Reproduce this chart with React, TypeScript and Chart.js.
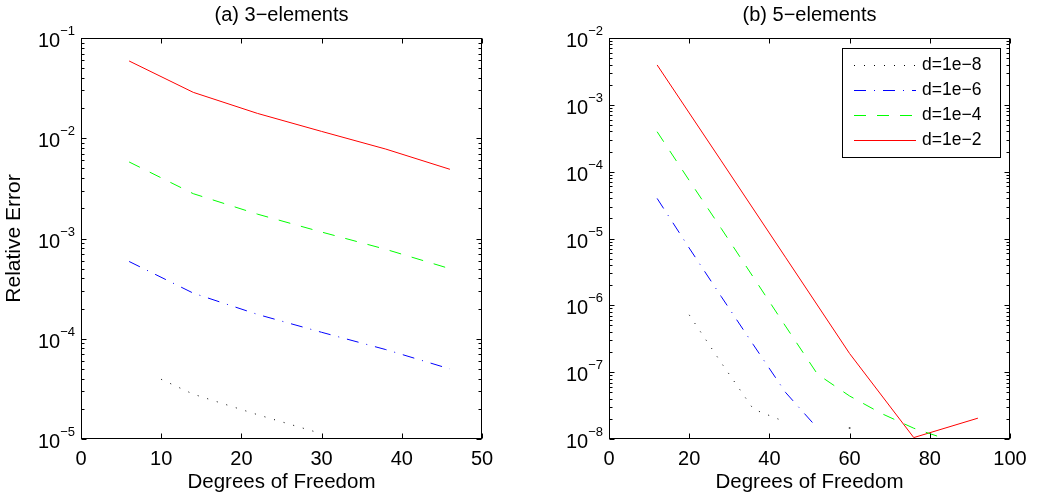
import React, { useEffect, useRef } from 'react';
import { Chart, registerables } from 'chart.js';

Chart.register(...registerables);

const FONT = "'Liberation Sans', Arial, Helvetica, sans-serif";

// ---- Panel (a) 3-elements ----
const aDof = [6, 14, 22, 30, 38, 46];
const aDof8 = [10, 14, 22, 30];
const aErr8 = [3.94e-5, 2.8e-5, 1.75e-5, 1.13e-5];
const aErr6 = [5.9e-4, 2.85e-4, 1.75e-4, 1.16e-4, 7.8e-5, 5.0e-5];
const aErr4 = [5.8e-3, 2.8e-3, 1.75e-3, 1.16e-3, 7.8e-4, 5.0e-4];
const aErr2 = [0.059, 0.0287, 0.0177, 0.0117, 0.0078, 0.0049];

// ---- Panel (b) 5-elements ----
const bDof8 = [20, 28, 36, 44, 52, 60];
const bErr8: (number | null)[] = [7.2e-7, 1.38e-7, 2.8e-8, 1.8e-8, null, 1.46e-8];
const bDof6 = [12, 20, 28, 36, 44, 52];
const bErr6 = [3.98e-5, 7.2e-6, 1.35e-6, 2.57e-7, 5.0e-8, 1.45e-8];
const bDof4 = [12, 20, 28, 36, 44, 52, 60, 68, 76, 84];
const bErr4 = [3.96e-4, 7.4e-5, 1.41e-5, 2.63e-6, 4.9e-7, 9.3e-8, 4.4e-8, 2.4e-8, 1.45e-8, 1.0e-8];
const bDof2 = [12, 28, 44, 60, 76, 92];
const bErr2 = [3.95e-3, 1.45e-4, 5.25e-6, 1.9e-7, 1.05e-8, 2.05e-8];

const LABELS = ['d=1e\u22128', 'd=1e\u22126', 'd=1e\u22124', 'd=1e\u22122'];
const COLORS = ['#000000', '#0000ff', '#00ff00', '#ff0000'];
const DASHES: number[][] = [[1, 9], [12, 8, 1, 8], [12, 11], []];

type Pt = { x: number; y: number | null };
const pts = (xs: number[], ys: (number | null)[]): Pt[] => xs.map((x, i) => ({ x, y: ys[i] }));

function isolatedRadius(ys: (number | null)[]) {
  return ys.map((v, i) =>
    v != null && (i === 0 || ys[i - 1] == null) && (i === ys.length - 1 || ys[i + 1] == null) ? 1 : 0
  );
}

function makeDatasets(series: Pt[][]) {
  return series.map((data, i) => ({
    label: LABELS[i],
    data,
    borderColor: COLORS[i],
    backgroundColor: COLORS[i],
    pointBackgroundColor: '#555555',
    borderDash: DASHES[i],
    borderWidth: 1,
    pointRadius: isolatedRadius(data.map((p) => p.y)),
    pointBorderWidth: 0,
    tension: 0,
    fill: false,
    spanGaps: false,
  }));
}

const framePlugin = {
  id: 'frame',
  afterDraw(chart: any, _args: any, opts: any) {
    const { ctx, chartArea: a } = chart;
    const xs = chart.scales.x;
    const ys = chart.scales.y;
    const L = Math.round(a.left) + 0.5;
    const R = Math.round(a.right) - 0.5;
    const T = Math.round(a.top) + 0.5;
    const B = Math.round(a.bottom) - 0.5;
    ctx.save();
    ctx.strokeStyle = '#000';
    ctx.lineWidth = 1;
    ctx.setLineDash([]);
    ctx.beginPath();
    for (const t of xs.ticks) {
      const px = Math.round(xs.getPixelForValue(t.value)) + 0.5;
      ctx.moveTo(px, B);
      ctx.lineTo(px, B - 5);
      ctx.moveTo(px, T);
      ctx.lineTo(px, T + 5);
    }
    const e0 = Math.round(Math.log10(ys.min));
    const e1 = Math.round(Math.log10(ys.max));
    for (let e = e0; e <= e1; e++) {
      for (let m = 1; m <= 9; m++) {
        if (e === e1 && m > 1) break;
        const py = Math.round(ys.getPixelForValue(m * Math.pow(10, e))) + 0.5;
        const len = m === 1 ? 5 : 3;
        ctx.moveTo(L, py);
        ctx.lineTo(L + len, py);
        ctx.moveTo(R, py);
        ctx.lineTo(R - len, py);
      }
    }
    ctx.stroke();
    ctx.strokeRect(L, T, R - L, B - T);

    // y tick labels 10^e
    ctx.fillStyle = '#000';
    ctx.textBaseline = 'alphabetic';
    ctx.textAlign = 'right';
    for (let e = e0; e <= e1; e++) {
      const py = ys.getPixelForValue(Math.pow(10, e));
      const exp = '\u2212' + String(-e);
      ctx.font = `13px ${FONT}`;
      const ew = ctx.measureText(exp).width;
      ctx.fillText(exp, a.left - 6, py - 3);
      ctx.font = `20px ${FONT}`;
      ctx.fillText('10', a.left - 6 - ew, py + 9);
    }

    if (opts && opts.legend) {
      const bw = 158;
      const bh = 109;
      const bx = Math.round(a.right) - 10 - bw;
      const by = Math.round(a.top) + 10;
      ctx.fillStyle = '#fff';
      ctx.fillRect(bx, by, bw, bh);
      ctx.strokeStyle = '#000';
      ctx.strokeRect(bx + 0.5, by + 0.5, bw, bh);
      chart.data.datasets.forEach((ds: any, i: number) => {
        const cy = by + 17 + i * 25;
        ctx.save();
        ctx.strokeStyle = ds.borderColor;
        ctx.lineWidth = 1.2;
        ctx.setLineDash(ds.borderDash || []);
        ctx.beginPath();
        ctx.moveTo(bx + 12, cy + 0.5);
        ctx.lineTo(bx + 74, cy + 0.5);
        ctx.stroke();
        ctx.restore();
        ctx.fillStyle = '#000';
        ctx.font = `17.5px ${FONT}`;
        ctx.textAlign = 'left';
        ctx.textBaseline = 'middle';
        ctx.fillText(ds.label, bx + 80, cy);
      });
    }
    ctx.restore();
  },
};

function makeConfig(p: {
  datasets: any[];
  title: string;
  xMax: number;
  xStep: number;
  yMin: number;
  yMax: number;
  yWidth: number;
  padRight: number;
  yTitle: boolean;
  legend: boolean;
}) {
  return {
    type: 'line',
    data: { datasets: p.datasets },
    options: {
      animation: false,
      responsive: false,
      events: [],
      layout: { padding: { left: 0, right: p.padRight, top: 0, bottom: 0 } },
      plugins: {
        legend: { display: false },
        tooltip: { enabled: false },
        title: {
          display: true,
          text: p.title,
          fullSize: false,
          color: '#000',
          font: { family: FONT, size: 20, weight: 'normal', lineHeight: '24px' },
          padding: { top: 3, bottom: 11 },
        },
        frame: { legend: p.legend },
      },
      scales: {
        x: {
          type: 'linear',
          min: 0,
          max: p.xMax,
          ticks: {
            stepSize: p.xStep,
            color: '#000',
            font: { family: FONT, size: 20 },
            padding: 0,
            maxRotation: 0,
            autoSkip: false,
          },
          grid: { display: false },
          border: { display: false },
          title: {
            display: true,
            text: 'Degrees of Freedom',
            color: '#000',
            font: { family: FONT, size: 20.5, lineHeight: '24px' },
            padding: { top: 0, bottom: 4 },
          },
          afterFit: (s: any) => {
            s.height = 59;
          },
        },
        y: {
          type: 'logarithmic',
          min: p.yMin,
          max: p.yMax,
          ticks: { display: false },
          grid: { display: false },
          border: { display: false },
          title: {
            display: p.yTitle,
            text: 'Relative Error',
            color: '#000',
            font: { family: FONT, size: 21, lineHeight: '25px' },
            padding: { top: 2, bottom: 0 },
          },
          afterFit: (s: any) => {
            s.width = p.yWidth;
          },
        },
      },
    },
    plugins: [framePlugin],
  };
}

export default function App() {
  const refA = useRef<HTMLCanvasElement | null>(null);
  const refB = useRef<HTMLCanvasElement | null>(null);

  useEffect(() => {
    const dsA = makeDatasets([
      pts(aDof8, aErr8),
      pts(aDof, aErr6),
      pts(aDof, aErr4),
      pts(aDof, aErr2),
    ]);
    const dsB = makeDatasets([
      pts(bDof8, bErr8),
      pts(bDof6, bErr6),
      pts(bDof4, bErr4),
      pts(bDof2, bErr2),
    ]);
    const chartA = new Chart(
      refA.current as HTMLCanvasElement,
      makeConfig({
        datasets: dsA,
        title: '(a) 3\u2212elements',
        xMax: 50,
        xStep: 10,
        yMin: 1e-5,
        yMax: 1e-1,
        yWidth: 81,
        padRight: 36,
        yTitle: true,
        legend: false,
      }) as any
    );
    const chartB = new Chart(
      refB.current as HTMLCanvasElement,
      makeConfig({
        datasets: dsB,
        title: '(b) 5\u2212elements',
        xMax: 100,
        xStep: 20,
        yMin: 1e-8,
        yMax: 1e-2,
        yWidth: 91,
        padRight: 27,
        yTitle: false,
        legend: true,
      }) as any
    );
    return () => {
      chartA.destroy();
      chartB.destroy();
    };
  }, []);

  return (
    <div style={{ position: 'absolute', left: 0, top: 0, width: 1037, height: 498, background: '#fff' }}>
      <canvas ref={refA} width={518} height={498} style={{ position: 'absolute', left: 0, top: 0 }} />
      <canvas ref={refB} width={519} height={498} style={{ position: 'absolute', left: 518, top: 0 }} />
    </div>
  );
}
